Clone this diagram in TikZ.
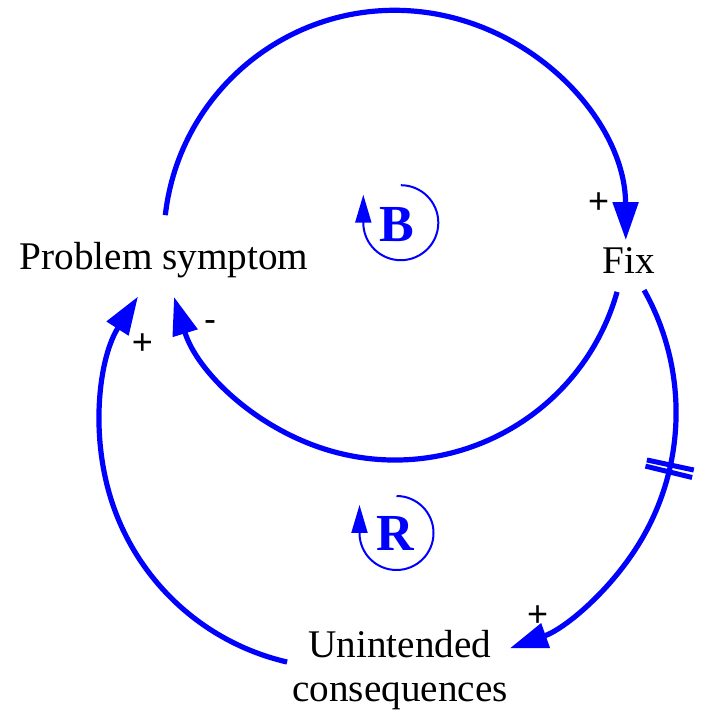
\documentclass[tikz,border=0pt]{standalone}
\usepackage{fontspec}
\setmainfont{Liberation Serif}
\newfontfamily\signfont{Liberation Sans}
\usetikzlibrary{arrows.meta,calc}
\definecolor{linkblue}{RGB}{0,0,255}
\begin{document}
\begin{tikzpicture}[x=0.5pt,y=0.5pt,
  link/.style={draw=linkblue, line width=2.6pt, -{Triangle[length=19pt,width=12.5pt]}},
  looparrow/.style={draw=linkblue, line width=1pt, -{Triangle[length=14pt,width=8pt]}},
  var/.style={font=\fontsize{19.6}{22.3}\selectfont, inner sep=0pt, align=center},
  sign/.style={font=\signfont\fontsize{18}{20}\selectfont, inner sep=0pt},
  loopname/.style={font=\fontsize{26}{28}\selectfont\bfseries, text=linkblue, inner sep=0pt},
  delay/.style={draw=linkblue, line width=2.5pt}]
\useasboundingbox (0,0) rectangle (706,712);

% variables
\node[var, anchor=base] (ps) at (164,442) {Problem symptom};
\node[var, anchor=base] (fix) at (629,438) {Fix};
\node[var, anchor=base] (uc) at (400,10.3) {Unintended\\consequences};

% centres of the link arcs
\coordinate (c1) at (394.8,470.7);
\coordinate (c2) at (394.8,483);
\coordinate (c3) at (425.9,299.4);
\coordinate (c4) at (341.4,285.3);

% Problem symptom -> Fix
\draw[link] (c1) ++(173.5:115.5pt) arc[start angle=173.5, end angle=0.3, radius=115.5pt];
% Fix -> Problem symptom
\draw[link] (c2) ++(-15.8:115.5pt) arc[start angle=-15.8, end angle=-162.9, radius=115.5pt];
% Fix -> Unintended consequences (delayed)
\draw[link] (c3) ++(29.3:125.1pt) arc[start angle=29.3, end angle=-70.4, radius=125.1pt];
% Unintended consequences -> Problem symptom
\draw[link] (c4) ++(257:120.75pt) arc[start angle=257, end angle=147.4, radius=120.75pt];

% delay mark
\draw[delay] ($(c3)+(-12.1:113pt)$) -- ($(c3)+(-12.1:137pt)$);
\draw[delay] ($(c3)+(-13.7:113pt)$) -- ($(c3)+(-13.7:137pt)$);

% polarities
\node[sign] (s1) at (598.7,508.7) {+};
\node[sign] (s2) at (210,386.3) {-};
\node[sign] (s3) at (142.3,368) {+};
\node[sign] (s4) at (537.7,96) {+};

% loop identifiers
\coordinate (bc) at (400.8,489.3);
\draw[looparrow] (bc) ++(90:18.75pt) arc[start angle=90, end angle=-180, radius=18.75pt] -- ++(0,28);
\node[loopname] (bl) at (397.3,487) {B};
\coordinate (rc) at (396.5,179);
\draw[looparrow] (rc) ++(90:18.5pt) arc[start angle=90, end angle=-180, radius=18.5pt] -- ++(0,28);
\node[loopname] (rl) at (395.7,178.7) {R};
\end{tikzpicture}
\end{document}
